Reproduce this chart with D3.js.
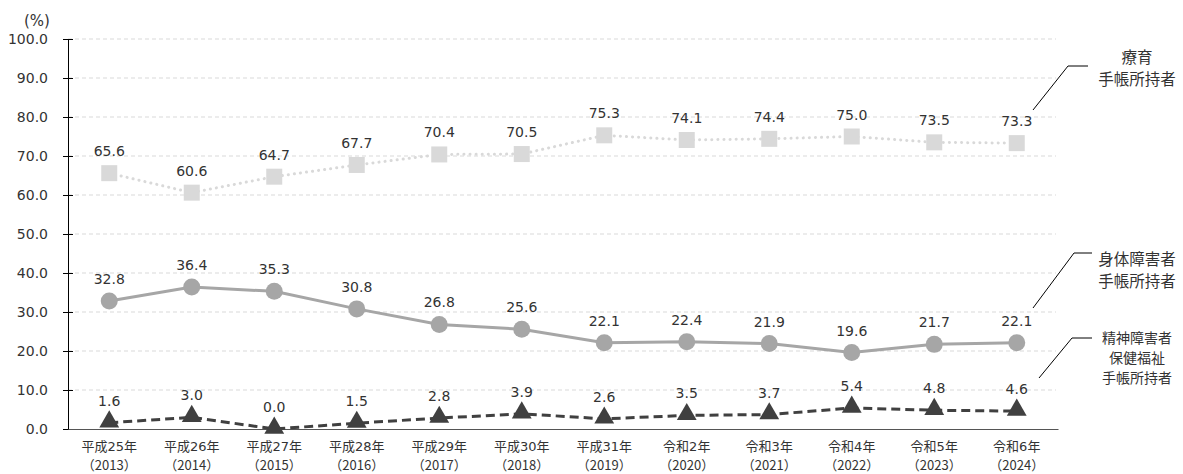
<!DOCTYPE html>
<html>
<head>
<meta charset="utf-8">
<script src="https://cdn.jsdelivr.net/npm/d3@7"></script>
<style>
  body { margin: 0; background: #fff; }
  text { font-family: "DejaVu Sans", "Noto Sans CJK JP", sans-serif; fill: #333; }
  .jp { font-family: "Noto Sans CJK JP", sans-serif; }
</style>
</head>
<body>
<div id="chart"></div>
<script>
// categories (two-line tick labels)
const eras = ['平成25年', '平成26年', '平成27年', '平成28年', '平成29年', '平成30年', '平成31年', '令和2年', '令和3年', '令和4年', '令和5年', '令和6年'];
const years = ['2013', '2014', '2015', '2016', '2017', '2018', '2019', '2020', '2021', '2022', '2023', '2024'];

// series values (%)
const ryoiku = [65.6, 60.6, 64.7, 67.7, 70.4, 70.5, 75.3, 74.1, 74.4, 75.0, 73.5, 73.3];
const shintai = [32.8, 36.4, 35.3, 30.8, 26.8, 25.6, 22.1, 22.4, 21.9, 19.6, 21.7, 22.1];
const seishin = [1.6, 3.0, 0.0, 1.5, 2.8, 3.9, 2.6, 3.5, 3.7, 5.4, 4.8, 4.6];

const yTicks = [0, 10, 20, 30, 40, 50, 60, 70, 80, 90, 100];

const width = 1183;
const height = 474;

const svg = d3.select('#chart')
  .append('svg')
  .attr('width', width)
  .attr('height', height);

const x = d3.scaleBand().domain(years).range([68, 1058]);
const y = d3.scaleLinear().domain([0, 100]).range([429, 39]);
const cx = (i) => x(years[i]) + x.bandwidth() / 2;

// gridlines
svg.append('g')
  .selectAll('line')
  .data(yTicks.filter(d => d > 0))
  .join('line')
  .attr('x1', 68)
  .attr('x2', 1056)
  .attr('y1', d => y(d))
  .attr('y2', d => y(d))
  .style('stroke', '#d9d9d9')
  .style('stroke-width', 1)
  .style('stroke-dasharray', '4,3');

// y axis
const yAxis = svg.append('g')
  .attr('transform', 'translate(68,0)')
  .call(d3.axisLeft(y).tickValues(yTicks).tickSize(5).tickFormat(d3.format('.1f')));
yAxis.select('.domain').style('stroke', '#000');
yAxis.selectAll('.tick line').attr('x1', -5).attr('x2', 5).style('stroke', '#000');
yAxis.selectAll('.tick text')
  .attr('x', -20)
  .style('font-family', '"DejaVu Sans", sans-serif')
  .style('font-size', '14px')
  .style('fill', '#333');

// x axis baseline
const xAxis = svg.append('g')
  .attr('transform', 'translate(0,' + y(0) + ')')
  .call(d3.axisBottom(x).tickSize(0).tickFormat(''));
xAxis.select('.domain').style('stroke', '#555').style('stroke-width', 1.2);

// x tick labels
const xl = svg.append('g');
years.forEach((yr, i) => {
  const t = xl.append('text')
    .attr('x', cx(i))
    .attr('text-anchor', 'middle')
    .style('font-size', '13px');
  t.append('tspan').attr('x', cx(i)).attr('y', 451).text(eras[i]);
  t.append('tspan').attr('x', cx(i)).attr('y', 470).attr('class', 'jp').text('（' + yr + '）');
});

svg.append('text')
  .text('(%)')
  .attr('x', 37)
  .attr('y', 26)
  .attr('text-anchor', 'middle')
  .style('font-size', '15px');

const line = d3.line().x((d, i) => cx(i)).y(d => y(d));

// 療育
svg.append('path')
  .datum(ryoiku)
  .attr('d', line)
  .style('fill', 'none')
  .style('stroke', '#d9d9d9')
  .style('stroke-width', 3)
  .style('stroke-linecap', 'round')
  .style('stroke-dasharray', '0.1,6');
svg.append('g')
  .selectAll('rect')
  .data(ryoiku)
  .join('rect')
  .attr('x', (d, i) => cx(i) - 8)
  .attr('y', d => y(d) - 8)
  .attr('width', 16)
  .attr('height', 16)
  .style('fill', '#d9d9d9');

// 身体
svg.append('path')
  .datum(shintai)
  .attr('d', line)
  .style('fill', 'none')
  .style('stroke', '#a6a6a6')
  .style('stroke-width', 3);
svg.append('g')
  .selectAll('circle')
  .data(shintai)
  .join('circle')
  .attr('cx', (d, i) => cx(i))
  .attr('cy', d => y(d))
  .attr('r', 8.5)
  .style('fill', '#a6a6a6');

// 精神
svg.append('path')
  .datum(seishin)
  .attr('d', line)
  .style('fill', 'none')
  .style('stroke', '#404040')
  .style('stroke-width', 3)
  .style('stroke-dasharray', '9,5');
const tri = d3.symbol().type(d3.symbolTriangle).size(170);
svg.append('g')
  .selectAll('path')
  .data(seishin)
  .join('path')
  .attr('d', tri)
  .attr('transform', (d, i) => 'translate(' + cx(i) + ',' + (y(d) - 1) + ')')
  .style('fill', '#404040');

// value labels
[ryoiku, shintai, seishin].forEach(series => {
  svg.append('g')
    .selectAll('text')
    .data(series)
    .join('text')
    .attr('x', (d, i) => cx(i))
    .attr('y', d => y(d) - 17)
    .attr('text-anchor', 'middle')
    .style('font-size', '14px')
    .text(d => d.toFixed(1));
});

// series annotations with leader lines
const notes = [
  { lines: ['療育', '手帳所持者'], pts: [[1033, 110], [1068, 66], [1088, 66]], ty: 63, size: 15.5, lh: 22 },
  { lines: ['身体障害者', '手帳所持者'], pts: [[1033, 308], [1074, 253], [1092, 253]], ty: 265, size: 15.5, lh: 22 },
  { lines: ['精神障害者', '保健福祉', '手帳所持者'], pts: [[1039, 378], [1072, 338], [1092, 338]], ty: 343, size: 14, lh: 20 }
];
notes.forEach(n => {
  svg.append('path')
    .attr('d', d3.line()(n.pts))
    .style('fill', 'none')
    .style('stroke', '#000')
    .style('stroke-width', 1);
  n.lines.forEach((s, k) => {
    svg.append('text')
      .attr('class', 'jp')
      .attr('text-anchor', 'middle')
      .attr('x', 1137)
      .attr('y', n.ty + k * n.lh)
      .style('font-size', n.size + 'px')
      .text(s);
  });
});
</script>
</body>
</html>
